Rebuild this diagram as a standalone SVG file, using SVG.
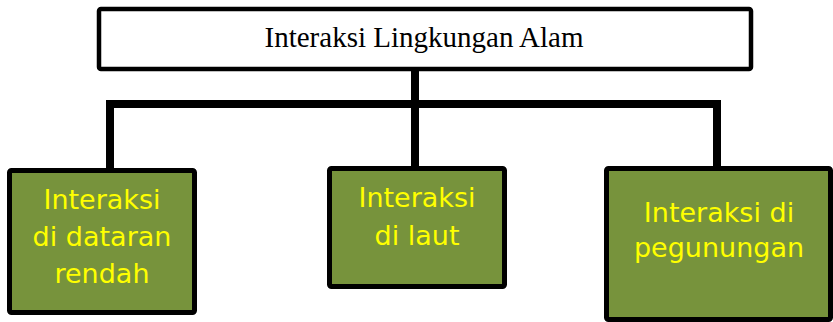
<svg xmlns="http://www.w3.org/2000/svg" width="833" height="322" viewBox="0 0 833 322">
<style>
.top{fill:#ffffff;stroke:#000;stroke-width:4.5}
.box{fill:#77933C;stroke:#000;stroke-width:5}
.conn{fill:none;stroke:#000;stroke-width:8;stroke-linecap:square;stroke-linejoin:miter}
.tt{font-family:"Liberation Serif","Times New Roman",serif;font-size:29px;fill:#000;text-anchor:middle}
.bt{font-family:"DejaVu Sans",Verdana,sans-serif;font-size:27px;fill:#FFFF00;text-anchor:middle}
</style>
<g id="connectors">
<path class="conn" d="M415 71 V104"/>
<path class="conn" d="M110 168 V104 H717 V166"/>
<path class="conn" d="M415 104 V166"/>
</g>
<g id="root">
<rect class="top" x="99" y="9" width="652" height="60" rx="2"/>
<text class="tt" x="424" y="47">Interaksi Lingkungan Alam</text>
</g>
<g id="dataran">
<rect class="box" x="9.5" y="170.5" width="185" height="142" rx="2"/>
<text class="bt" x="102" y="209">Interaksi</text>
<text class="bt" x="102" y="246">di dataran</text>
<text class="bt" x="102" y="283">rendah</text>
</g>
<g id="laut">
<rect class="box" x="329.5" y="168.5" width="175" height="118" rx="2"/>
<text class="bt" x="417" y="207">Interaksi</text>
<text class="bt" x="417" y="245">di laut</text>
</g>
<g id="pegunungan">
<rect class="box" x="606.5" y="168.5" width="224" height="151" rx="2"/>
<text class="bt" x="719" y="222">Interaksi di</text>
<text class="bt" x="719" y="257">pegunungan</text>
</g>
</svg>
